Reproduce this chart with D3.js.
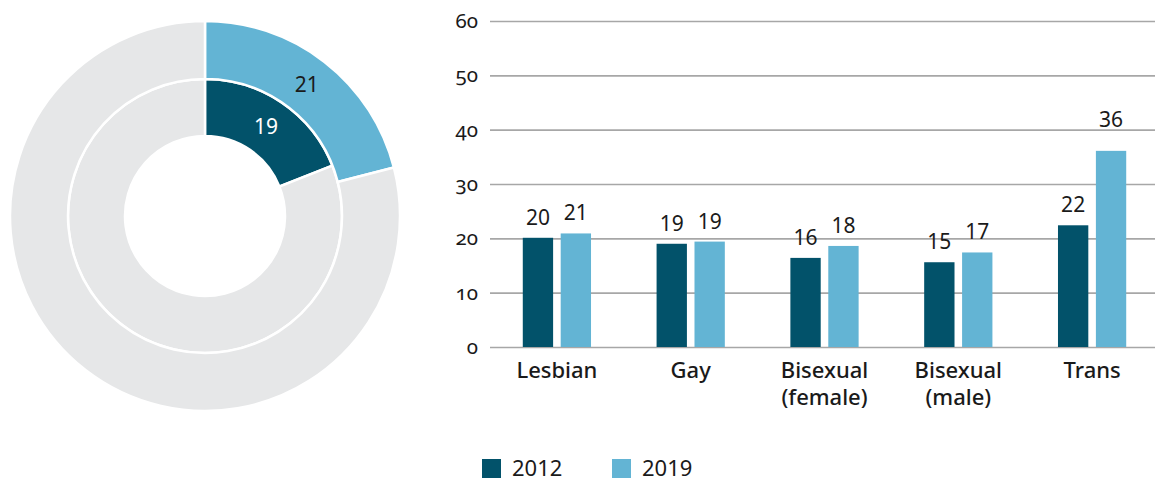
<!DOCTYPE html>
<html>
<head>
<meta charset="utf-8">
<script src="https://cdn.jsdelivr.net/npm/d3@7"></script>
<style>
  body { margin: 0; background: #fff; }
  svg { font-family: "Noto Sans", "Open Sans", sans-serif; }
  .tick text { font-feature-settings: "onum"; }
</style>
</head>
<body>
<script>
// donut: share (%) for each year, outer ring = 2019, inner ring = 2012
var donutYears = ['2012', '2019'],
    donutValues = [19, 21];

// bars
var categories = ['Lesbian', 'Gay', 'Bisexual\n(female)', 'Bisexual\n(male)', 'Trans'],
    series = ['2012', '2019'],
    values2012 = [20.1, 19.0, 16.4, 15.6, 22.4],
    values2019 = [20.9, 19.4, 18.6, 17.4, 36.1],
    labels2012 = ['20', '19', '16', '15', '22'],
    labels2019 = ['21', '19', '18', '17', '36'],
    yTicks = [0, 10, 20, 30, 40, 50, 60];

var colors = { '2012': '#02526a', '2019': '#63b4d4' },
    grey = '#e6e7e8';

var width = 1155, height = 479;
var svg = d3.select('body').append('svg')
    .attr('width', width)
    .attr('height', height);

// #DONUT
var cx = 205, cy = 216;
var rings = [
    { year: '2012', value: donutValues[0], inner: 80, outer: 137, text: '#fff' },
    { year: '2019', value: donutValues[1], inner: 137, outer: 195, text: '#1a1a1a' }
];

var pie = d3.pie().sort(null).value(d => d);
var donut = svg.append('g').attr('transform', 'translate(' + cx + ',' + cy + ')');

rings.forEach(r => {
    var arc = d3.arc().innerRadius(r.inner).outerRadius(r.outer);
    var slices = pie([r.value, 100 - r.value]);
    donut.append('g').selectAll('path').data(slices).enter()
        .append('path')
        .attr('d', arc)
        .attr('fill', (d, i) => i == 0 ? colors[r.year] : grey)
        .attr('stroke', '#fff')
        .attr('stroke-width', 2.5);
    var c = arc.centroid(slices[0]);
    donut.append('text')
        .attr('x', c[0])
        .attr('y', c[1])
        .attr('dy', '0.36em')
        .attr('text-anchor', 'middle')
        .attr('font-size', 21)
        .attr('fill', r.text)
        .text(r.value);
});

// #BARS
var x0 = 490, x1 = 1155, y0 = 347, yTop = 21;

var xScale = d3.scaleBand()
    .domain(categories)
    .range([490, 1159])
    .paddingInner(0.49)
    .paddingOuter(0.245);

var xSub = d3.scaleBand()
    .domain(series)
    .range([0, xScale.bandwidth()])
    .paddingInner(0.2);

var yScale = d3.scaleLinear()
    .domain([0, 60])
    .range([y0, yTop]);

// grid + tick labels
var yAxis = d3.axisLeft(yScale).tickValues(yTicks).tickSize(0).tickPadding(12);
var yAxisG = svg.append('g')
    .attr('transform', 'translate(' + x0 + ',0)')
    .call(yAxis)
    .call(g => g.select('.domain').remove());
yAxisG.selectAll('.tick text')
    .attr('font-size', 20.5)
    .attr('font-family', '"Noto Sans", sans-serif')
    .attr('fill', '#1a1a1a');
yAxisG.selectAll('.tick line')
    .attr('x2', x1 - x0)
    .attr('stroke', '#a7a7a7')
    .attr('stroke-width', 1.6);

var rows = categories.map((c, i) => ({
    cat: c,
    bars: [
        { s: '2012', v: values2012[i], label: labels2012[i] },
        { s: '2019', v: values2019[i], label: labels2019[i] }
    ]
}));

var groups = svg.selectAll('.grp').data(rows).enter()
    .append('g')
    .attr('class', 'grp')
    .attr('transform', d => 'translate(' + xScale(d.cat) + ',0)');

groups.selectAll('rect').data(d => d.bars).enter()
    .append('rect')
    .attr('x', d => xSub(d.s))
    .attr('y', d => yScale(d.v))
    .attr('width', xSub.bandwidth())
    .attr('height', d => y0 - yScale(d.v))
    .attr('fill', d => colors[d.s]);

// tall bars get their label set a little higher
groups.selectAll('text.val').data(d => d.bars).enter()
    .append('text')
    .attr('class', 'val')
    .attr('x', d => xSub(d.s) + xSub.bandwidth() / 2)
    .attr('y', d => yScale(d.v) - (d.v > 30 ? 24 : 13))
    .attr('text-anchor', 'middle')
    .attr('font-size', 21)
    .attr('fill', '#1a1a1a')
    .text(d => d.label);

// category labels (two lines where needed)
groups.append('text')
    .attr('x', xScale.bandwidth() / 2)
    .attr('y', 378)
    .attr('text-anchor', 'middle')
    .attr('font-size', 22)
    .attr('font-weight', 500)
    .attr('fill', '#1a1a1a')
    .selectAll('tspan').data(d => d.cat.split('\n')).enter()
    .append('tspan')
    .attr('x', xScale.bandwidth() / 2)
    .attr('dy', (d, i) => i == 0 ? 0 : 27)
    .text(d => d);

// legend
var legend = svg.selectAll('.legend').data(series).enter()
    .append('g')
    .attr('class', 'legend')
    .attr('transform', (d, i) => 'translate(' + (482 + i * 130) + ',459)');

legend.append('rect')
    .attr('width', 19)
    .attr('height', 19)
    .attr('fill', d => colors[d]);

legend.append('text')
    .attr('x', 30)
    .attr('y', 17)
    .attr('font-size', 22)
    .attr('fill', '#1a1a1a')
    .text(d => d);
</script>
</body>
</html>
